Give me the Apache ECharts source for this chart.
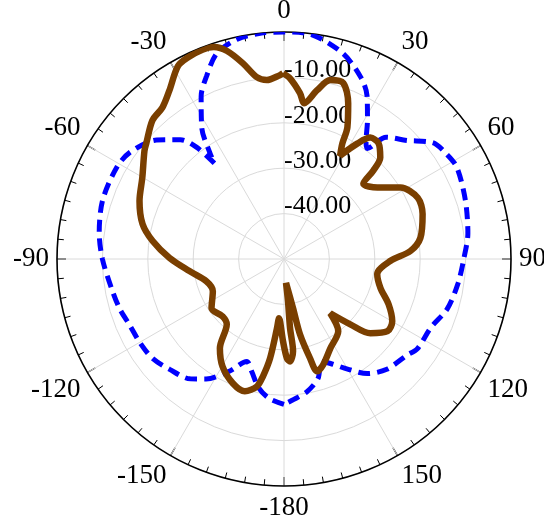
<!DOCTYPE html>
<html>
<head>
<meta charset="utf-8">
<script src="https://cdn.jsdelivr.net/npm/echarts@6/dist/echarts.min.js"></script>
<style>
  html, body { margin: 0; padding: 0; background: #fff; }
  #chart { width: 544px; height: 521px; }
</style>
</head>
<body>
<div id="chart"></div>
<script>
// Angle tick labels (degrees, 0 at top, clockwise positive)
const angleTicks = [0, 30, 60, 90, 120, 150, -180, -150, -120, -90, -60, -30];
// Radial rings in dB
const radialTicks = [-50, -40, -30, -20, -10, 0];

// Dashed blue pattern: angle (deg) and level (dB)
const blueAngles = [-180, -174, -169, -164, -160, -154, -147, -142, -134, -127,
  -120, -113, -107, -100, -90, -82, -72, -61, -55, -47,
  -41, -38, -36, -35, -32, -27, -23, -18, -12, -6,
  0, 7, 16, 23, 27, 31, 35, 37, 40, 46,
  52, 57, 62, 72, 82, 90, 98, 107, 115, 124,
  128, 137, 144, 150, 156, 160, 164, 170, 176, 180];
const blueValues = [-18.0, -19.1, -21.0, -24.2, -26.0, -22.5, -18.5, -16.5, -15.0, -13.7,
  -13.3, -13.0, -12.2, -11.5, -10.0, -8.9, -8.0, -8.0, -8.8, -11.6,
  -15.2, -18.8, -24.0, -21.6, -15.8, -9.8, -6.3, -2.3, -0.5, 0,
  0, -0.2, -2.9, -6.6, -9.7, -14.3, -18.5, -19.5, -15.0, -12.4,
  -8.4, -7.4, -6.9, -8.0, -9.1, -10.4, -11.3, -12.4, -14.3, -14.6,
  -15.6, -16.8, -18.8, -22.0, -24.8, -26.0, -22.7, -20.4, -19.0, -18.0];

// Solid brown pattern, listed in drawing order around the curve
const brownAngles = [-0.3, 1.9, 5.5, 7.4, 11.1, 14.5, 18.6, 22.4, 25.7, 26.8,
  28.5, 32.4, 35.4, 39.3, 43.5, 45.3, 46.5, 52.6, 58.5, 65.4,
  72, 81.2, 86.4, 91.1, 99.2, 106.8, 113.4, 119.9, 124.9, 130.7,
  134.6, 139.6, 143.1, 152.7, 159.6, 163.6, 165.3, 168, 169.6, 175.2,
  174.6, 175, 174.4, 176.6, 178.3, -179.3, -175.2, -174.2, -172, -169.8,
  -168, -163.5, -157.6, -150.3, -144.3, -138.7, -133.1, -124.2, -114.3, -106,
  -97.3, -89.5, -82.2, -76.1, -68.1, -60.1, -52.2, -50, -43.5, -38.7,
  -34.2, -28.8, -25.4, -21.3, -18.3, -15.3, -11.9, -8.5, -5.5, -1.3, -0.3];
const brownValues = [-9.1, -10.2, -13.3, -15.4, -12.1, -9.3, -9.1, -12.9, -17.8, -21.5,
  -24.1, -19.9, -17.2, -17.1, -19.2, -22.3, -25.9, -24.1, -19.9, -17.6,
  -17.9, -19.6, -22.1, -26.6, -29.2, -27.8, -24.9, -22.5, -22.2, -24.9,
  -29.5, -34.3, -30.1, -27.8, -25.2, -24.2, -27.4, -33.0, -39.0, -44.7,
  -40.7, -34.7, -29.6, -27.4, -28.1, -31.9, -36.9, -34.6, -27.9, -23.7,
  -21.3, -19.6, -20.4, -22.7, -25.8, -30.9, -31.5, -30.7, -32.8, -32.2,
  -29.0, -24.8, -20.8, -17.9, -15.7, -14.0, -11.1, -10.4, -7.9, -7.2,
  -5.1, -1.5, -0.8, -0.5, -0.8, -2.5, -5.9, -9.5, -10.4, -9.5, -9.1];

const FONT = '"Liberation Serif", "Times New Roman", serif';

// The angle axis runs 0..360 clockwise from the top; negative angles wrap.
const wrap = a => (a + 360) % 360;
const toPolar = (angles, values) => angles.map((a, i) => [values[i], wrap(a)]);
const angleLabel = v => {
  if (v >= 360) return '';
  const d = v >= 180 ? v - 360 : v;
  return angleTicks.includes(d) ? String(d) : '';
};

const chart = echarts.init(document.getElementById('chart'), null, { renderer: 'canvas' });
chart.setOption({
  animation: false,
  backgroundColor: '#fff',
  polar: { center: [284, 259], radius: 227 },
  angleAxis: {
    type: 'value', min: 0, max: 360, interval: 30,
    startAngle: 90, clockwise: true,
    axisLine: { lineStyle: { color: '#000', width: 1.6 } },
    axisTick: { show: true, inside: true, length: 9, lineStyle: { color: '#000', width: 1.3 } },
    minorTick: { show: true, splitNumber: 6, length: 6, lineStyle: { color: '#000', width: 1 } },
    axisLabel: { formatter: angleLabel, fontFamily: FONT, fontSize: 27, color: '#000', margin: 8 },
    splitLine: { show: true, lineStyle: { color: '#dadada', width: 1 } }
  },
  radiusAxis: {
    type: 'value', min: radialTicks[0], max: radialTicks[radialTicks.length - 1], interval: 10,
    axisLine: { show: false },
    axisTick: { show: false },
    splitLine: { show: true, lineStyle: { color: '#dadada', width: 1 } },
    axisLabel: {
      formatter: v => (v <= radialTicks[0] || v >= 0) ? '' : v.toFixed(2),
      fontFamily: FONT, fontSize: 26, color: '#000', lineHeight: 14,
      align: 'left', verticalAlign: 'bottom', margin: 0
    }
  },
  series: [
    {
      type: 'line', coordinateSystem: 'polar', symbol: 'none', smooth: 0.3,
      data: toPolar(blueAngles, blueValues),
      lineStyle: { color: '#0000ff', width: 5, type: [12, 7] },
      z: 3
    },
    {
      type: 'line', coordinateSystem: 'polar', symbol: 'none', smooth: 0.3,
      data: toPolar(brownAngles, brownValues),
      lineStyle: { color: '#7a3f00', width: 6.5 },
      z: 4
    }
  ]
});
</script>
</body>
</html>
